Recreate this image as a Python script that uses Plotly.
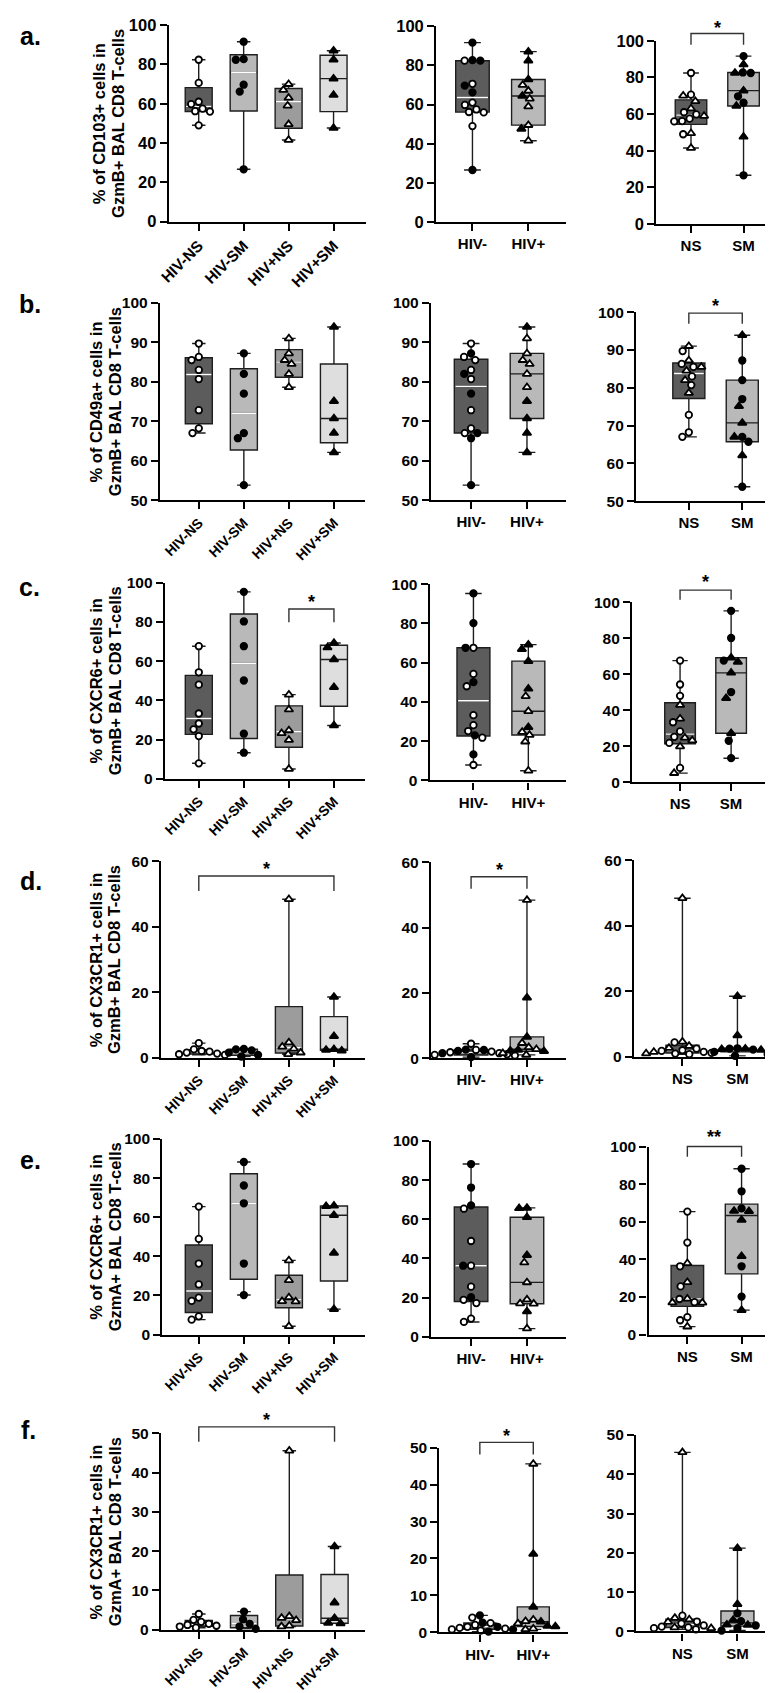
import numpy as np
import plotly.graph_objects as go

W, H = 773, 1693

group_labels = ["HIV-NS", "HIV-SM", "HIV+NS", "HIV+SM"]
hiv_labels = ["HIV-", "HIV+"]
smoke_labels = ["NS", "SM"]
panel_letters = ["a.", "b.", "c.", "d.", "e.", "f."]

# values, one list per group and row
a_neg_ns = [82.4, 70.6, 61.0, 59.8, 57.5, 56.2, 56.0, 49.0]
a_neg_sm = [91.6, 82.7, 82.4, 69.7, 66.2, 26.6]
a_pos_ns = [70.0, 67.0, 63.0, 59.0, 49.5, 41.5]
a_pos_sm = [87.0, 82.4, 72.8, 64.4, 47.6]

b_neg_ns = [89.7, 86.3, 85.5, 83.0, 80.7, 72.8, 68.2, 67.0]
b_neg_sm = [87.2, 82.0, 77.0, 67.0, 65.7, 53.8]
b_pos_ns = [91.0, 87.2, 85.5, 84.5, 82.0, 78.6]
b_pos_sm = [93.9, 75.1, 70.7, 67.0, 62.1]

c_neg_ns = [67.6, 54.3, 48.0, 33.3, 28.2, 25.2, 21.8, 7.9]
c_neg_sm = [95.3, 80.2, 67.6, 50.1, 23.0, 13.3]
c_pos_ns = [42.9, 35.3, 24.7, 23.2, 19.8, 5.0]
c_pos_sm = [69.2, 66.9, 60.8, 46.7, 27.2]

d_neg_ns = [4.4, 2.5, 2.0, 1.8, 1.5, 1.2, 1.0, 0.8]
d_neg_sm = [2.6, 2.5, 2.2, 1.5, 0.8, 0.3]
d_pos_ns = [48.4, 4.6, 3.3, 2.7, 1.5, 1.0]
d_pos_sm = [18.5, 6.5, 2.5, 2.3, 2.1]

e_neg_ns = [65.4, 48.9, 36.3, 25.6, 18.9, 17.2, 9.3, 7.6]
e_neg_sm = [88.2, 76.2, 67.1, 36.3, 20.2]
e_pos_ns = [37.9, 27.8, 19.0, 17.0, 16.9, 4.2]
e_pos_sm = [65.8, 65.6, 61.0, 41.7, 13.0]

f_neg_ns = [4.0, 2.5, 2.0, 1.5, 1.2, 1.0, 0.8, 0.5]
f_neg_sm = [4.6, 2.6, 1.5, 0.8, 0.2]
f_pos_ns = [45.6, 3.4, 3.0, 2.4, 1.0, 0.8]
f_pos_sm = [21.2, 6.9, 2.9, 1.7, 1.6]

y_titles = [
    ("% of CD103+ cells in", "GzmB+ BAL CD8 T-cells"),
    ("% of CD49a+ cells in", "GzmB+ BAL CD8 T-cells"),
    ("% of CXCR6+ cells in", "GzmB+ BAL CD8 T-cells"),
    ("% of CX3CR1+ cells in", "GzmB+ BAL CD8 T-cells"),
    ("% of CXCR6+ cells in", "GzmA+ BAL CD8 T-cells"),
    ("% of CX3CR1+ cells in", "GzmA+ BAL CD8 T-cells"),
]
y_min = [0, 50, 0, 0, 0, 0]
y_max = [100, 100, 100, 60, 100, 50]
y_dtick = [20, 10, 20, 20, 20, 10]

# (row, panel, from group, to group, stars)
sig_marks = [
    (0, 2, 0, 1, "*"), (1, 2, 0, 1, "*"), (2, 0, 2, 3, "*"), (2, 2, 0, 1, "*"),
    (3, 0, 0, 3, "*"), (3, 1, 0, 1, "*"), (4, 2, 0, 1, "**"), (5, 0, 0, 3, "*"),
    (5, 1, 0, 1, "*"),
]

rows = [
    (a_neg_ns, a_neg_sm, a_pos_ns, a_pos_sm),
    (b_neg_ns, b_neg_sm, b_pos_ns, b_pos_sm),
    (c_neg_ns, c_neg_sm, c_pos_ns, c_pos_sm),
    (d_neg_ns, d_neg_sm, d_pos_ns, d_pos_sm),
    (e_neg_ns, e_neg_sm, e_pos_ns, e_pos_sm),
    (f_neg_ns, f_neg_sm, f_pos_ns, f_pos_sm),
]

# ---- layout (pixels): axis x, axis end, first category, category spacing, top, bottom
geom = [
    [(152, 352, 182.3, 45.6, 8.3, 206.7), (423.3, 555, 460, 56.7, 9.3, 207.3), (646.7, 771.7, 681.7, 53.3, 24, 209.3)],
    [(143, 351, 182.4, 45.7, 289, 488.3), (418, 554.7, 458.6, 56.7, 289, 488.3), (626, 772, 679.5, 54.2, 298.3, 489.3)],
    [(148, 351, 182.4, 45.7, 571.7, 770), (416.7, 554.7, 461, 55.7, 573.3, 771.7), (622, 757, 670.6, 51.8, 591.7, 773.3)],
    [(144, 351, 182.4, 45.7, 853.3, 1051.7), (418, 554.7, 458.6, 56.7, 854.3, 1052.3), (623.8, 769, 673, 55.8, 852.3, 1051)],
    [(145.5, 351, 182.4, 45.7, 1134, 1331.7), (418, 554.7, 458.6, 56.7, 1136, 1334), (638.6, 769, 678, 55, 1141.7, 1331.7)],
    [(144, 351, 182.4, 45.9, 1431.7, 1630), (426.5, 557, 467.5, 54.2, 1446, 1632.7), (626, 769, 673, 55.8, 1433.3, 1631.7)],
]
sig_px = [(16.7, 28, 6.7), (299.3, 310, 288.3), (598.3, 611.7, 587.7), (579.3, 589, 567.3),
          (868.3, 883.3, 856.7), (869, 881, 858.3), (1141.7, 1152, 1128), (1425, 1440, 1414),
          (1440.7, 1453, 1430)]
letter_px = [(12, 19), (11, 290), (11, 576), (12, 873), (12, 1155), (10, 1428)]
title_px = [(82, 101)] + [(78, 97)] * 5

FONT = "Arial"
marker_style = {
    "neg_ns": dict(symbol="circle", color="white", size=6.5),
    "neg_sm": dict(symbol="circle", color="black", size=6.5),
    "pos_ns": dict(symbol="triangle-up", color="white", size=7.5),
    "pos_sm": dict(symbol="triangle-up", color="black", size=7.5),
}
DARK, MID, LIGHT, PALE = "#5c5c5c", "#9c9c9c", "#b9b9b9", "#dedede"


def bold(s):
    return f"<b>{s}</b>"


def swarm(vals, px_x, px_y, d=8.0):
    # simple beeswarm: put each point as close to the centre as it fits
    order = sorted(range(len(vals)), key=lambda i: -vals[i])
    placed, out = [], [0.0] * len(vals)
    for i in order:
        y = vals[i] * px_y
        cands = [0.0]
        for px, py in placed:
            dy = abs(py - y)
            if dy < d:
                dx = (d * d - dy * dy) ** 0.5
                cands += [px - dx, px + dx]
        cands.sort(key=lambda c: (abs(c), c))
        for c in cands:
            if all((c - px) ** 2 + (y - py) ** 2 >= d * d - 1e-6 for px, py in placed):
                break
        placed.append((c, y))
        out[i] = c / px_x
    return out


fig = go.Figure()


def add_panel(n, g, boxes, labels, r):
    x0, x1, c0, sp, yt, yb = g
    xa, ya = ("x", "y") if n == 1 else (f"x{n}", f"y{n}")
    px_y = (yb - yt) / (y_max[r] - y_min[r])
    for i, (parts, fill, white_med) in enumerate(boxes):
        vals = np.concatenate([np.array(p[0], float) for p in parts])
        q1, med, q3 = np.percentile(vals, [25, 50, 75], method="weibull")
        fig.add_trace(go.Box(
            x=[i], q1=[q1], median=[med], q3=[q3], lowerfence=[vals.min()], upperfence=[vals.max()],
            width=0.6, whiskerwidth=0.5, fillcolor=fill, line=dict(color="#1e1e1e", width=1.4),
            boxpoints=False, hoverinfo="skip", showlegend=False, xaxis=xa, yaxis=ya))
        if white_med:
            fig.add_trace(go.Box(
                x=[i], q1=[med], median=[med], q3=[med], lowerfence=[med], upperfence=[med],
                width=0.56, whiskerwidth=0, fillcolor="rgba(0,0,0,0)", line=dict(color="white", width=1.4),
                boxpoints=False, hoverinfo="skip", showlegend=False, xaxis=xa, yaxis=ya))
        offs = swarm(list(vals), sp, px_y)
        k = 0
        for v, key in parts:
            seg = np.array(offs[k:k + len(v)])
            k += len(v)
            st = marker_style[key]
            fig.add_trace(go.Scatter(
                x=i + seg, y=v, mode="markers", cliponaxis=False, showlegend=False, hoverinfo="skip",
                marker=dict(symbol=st["symbol"], size=st["size"], color=st["color"],
                            line=dict(color="black", width=1.8)),
                xaxis=xa, yaxis=ya))
    ncat = len(labels)
    lo = -(c0 - x0) / sp
    hi = (ncat - 1) + (x1 - c0 - (ncat - 1) * sp) / sp
    rot = ncat == 4
    yticks = list(range(y_min[r], y_max[r] + 1, y_dtick[r]))
    xfs = (15.5 if r == 0 else 14) if rot else 15
    fig.layout[f"xaxis{'' if n == 1 else n}"] = dict(
        domain=[x0 / W, x1 / W], range=[lo, hi], anchor=ya, tickvals=list(range(ncat)),
        ticktext=[bold(t) for t in labels],
        tickangle=-45 if rot else 0, showline=True, linewidth=2.4, linecolor="black", ticks="outside",
        ticklen=7, tickwidth=2, tickcolor="black", showgrid=False, zeroline=False, fixedrange=True,
        tickfont=dict(family=FONT, size=xfs, color="black"))
    fig.layout[f"yaxis{'' if n == 1 else n}"] = dict(
        domain=[1 - yb / H, 1 - yt / H], range=[y_min[r], y_max[r]], anchor=xa,
        tickvals=yticks, ticktext=[bold(t) for t in yticks],
        showline=True, linewidth=2.4, linecolor="black", ticks="outside", ticklen=7,
        tickwidth=2, tickcolor="black", showgrid=False, zeroline=False, fixedrange=True,
        tickfont=dict(family=FONT, size=16.5 if r == 0 else 15.5, color="black"))


for r, (neg_ns, neg_sm, pos_ns, pos_sm) in enumerate(rows):
    left = [
        ([(neg_ns, "neg_ns")], DARK, True),
        ([(neg_sm, "neg_sm")], LIGHT, True),
        ([(pos_ns, "pos_ns")], MID, True),
        ([(pos_sm, "pos_sm")], PALE, False),
    ]
    mid = [
        ([(neg_ns, "neg_ns"), (neg_sm, "neg_sm")], DARK, True),
        ([(pos_ns, "pos_ns"), (pos_sm, "pos_sm")], LIGHT, False),
    ]
    right = [
        ([(neg_ns, "neg_ns"), (pos_ns, "pos_ns")], DARK, True),
        ([(neg_sm, "neg_sm"), (pos_sm, "pos_sm")], LIGHT, False),
    ]
    add_panel(r * 3 + 1, geom[r][0], left, group_labels, r)
    add_panel(r * 3 + 2, geom[r][1], mid, hiv_labels, r)
    add_panel(r * 3 + 3, geom[r][2], right, smoke_labels, r)

    yt, yb = geom[r][0][4], geom[r][0][5]
    for line, lx in zip(y_titles[r], title_px[r]):
        fig.add_annotation(
            x=lx / W, y=1 - (yt + yb) / 2 / H, xref="paper", yref="paper", text=bold(line),
            textangle=-90, showarrow=False, xanchor="center", yanchor="middle",
            font=dict(family=FONT, size=16.5, color="black"))
    lx, ly = letter_px[r]
    fig.add_annotation(
        x=lx / W, y=1 - ly / H, xref="paper", yref="paper", text=bold(panel_letters[r]), showarrow=False,
        xanchor="center", yanchor="middle", font=dict(family=FONT, size=25, color="black"))

for (r, p, i, j, txt), (bar, tick, star) in zip(sig_marks, sig_px):
    n = r * 3 + p + 1
    xa = "x" if n == 1 else f"x{n}"
    yb_, yt_, ys = 1 - bar / H, 1 - tick / H, 1 - (star + 4) / H
    fig.add_shape(type="path", xref=xa, yref="paper",
                  path=f"M {i},{yt_} L {i},{yb_} L {j},{yb_} L {j},{yt_}",
                  line=dict(color="#333333", width=1.4))
    fig.add_annotation(x=(i + j) / 2, y=ys, xref=xa, yref="paper", text=bold(txt), showarrow=False,
                       xanchor="center", yanchor="middle",
                       font=dict(family=FONT, size=18, color="black"))

fig.update_layout(
    width=W, height=H, margin=dict(l=0, r=0, t=0, b=0),
    paper_bgcolor="white", plot_bgcolor="white", showlegend=False,
    font=dict(family=FONT, color="black"),
)

fig.write_html("out.html")
